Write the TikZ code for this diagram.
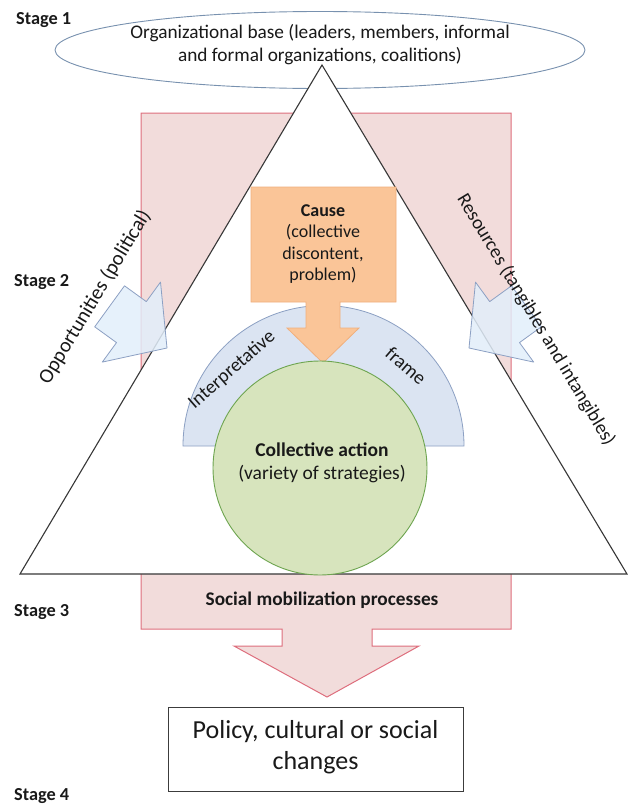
\documentclass[tikz,border=0pt]{standalone}
\usepackage{fontspec}
\setmainfont{Carlito}
\usetikzlibrary{shapes.geometric}
\definecolor{pinkfill}{RGB}{242,220,219}
\definecolor{pinkline}{RGB}{222,110,125}
\definecolor{orangefill}{RGB}{250,197,152}
\definecolor{orangeline}{RGB}{240,175,125}
\definecolor{bluefill}{RGB}{219,228,242}
\definecolor{blueline}{RGB}{140,160,195}
\definecolor{arrowfill}{RGB}{226,238,250}
\definecolor{greenfill}{RGB}{215,228,189}
\definecolor{greenline}{RGB}{110,165,80}
\definecolor{ellline}{RGB}{120,145,175}
\definecolor{txt}{RGB}{25,25,25}
\begin{document}
\begin{tikzpicture}[x=1pt,y=-1pt,
  lbl/.style={font=\fontsize{19.3}{22}\selectfont, text=txt, inner sep=0pt},
  stagelbl/.style={font=\fontsize{18.3}{22}\selectfont\bfseries, text=txt, inner sep=0pt, anchor=west},
  blockarrow/.style={fill=arrowfill, fill opacity=0.85, draw=blueline, line width=0.8pt, line join=round}]
\useasboundingbox (0,0) rectangle (632,806);
% big pink arrow
\draw[fill=pinkfill, draw=pinkline, line width=1pt]
  (141,113) -- (511,113) -- (511,629) -- (372,629) -- (372,646) -- (419,646)
  -- (327,697) -- (234,646) -- (282,646) -- (282,629) -- (141,629) -- cycle;
% ellipse
\node[draw=ellline, fill=white, ellipse, line width=0.9pt, minimum width=530pt, minimum height=77pt, inner sep=0pt] (base) at (320,50) {};
% triangle
\draw[fill=white, draw={rgb,255:red,55;green,55;blue,55}, line width=1.1pt, line join=miter]
  (322,65) coordinate (apex) -- (20,574) coordinate (bl) -- (627,574) coordinate (br) -- cycle;
% blue arrows
\draw[blockarrow] (167,348) -- (160.5,282.1) -- (146.3,301.6) -- (124.5,285.8)
  -- (94.7,326.8) -- (116.5,342.6) -- (102.3,362.1) -- cycle;
\draw[blockarrow] (469,348) -- (475.5,282.1) -- (489.7,301.6) -- (511.5,285.8)
  -- (541.3,326.8) -- (519.5,342.6) -- (533.7,362.1) -- cycle;
% half disk (frame)
\draw[fill=bluefill, draw=blueline, line width=0.8pt]
  (183,446) arc[start angle=180, end angle=0, radius=140.5pt] -- cycle;
% orange cause arrow
\draw[fill=orangefill, draw=orangeline, line width=0.8pt]
  (251,187) -- (396,187) -- (396,302) -- (340,302) -- (340,328) -- (359,328)
  -- (323,363) -- (287,328) -- (306,328) -- (306,302) -- (251,302) -- cycle;
% green circle
\node[circle, fill=greenfill, draw=greenline, line width=0.9pt, minimum size=214pt, inner sep=0pt] (action) at (320,468) {};
% policy box
\node[draw={rgb,255:red,60;green,60;blue,60}, fill=white, line width=0.9pt, minimum width=295pt, minimum height=84pt, inner sep=0pt] (policy) at (315.5,749) {};
% texts
\node[lbl, align=center] (basetxt) at (320,45) {Organizational base (leaders, members, informal\\[1pt]and formal organizations, coalitions)};
\node[lbl, align=center, font=\fontsize{18}{21.5}\selectfont] (causetxt) at (323,244) {\textbf{Cause}\\(collective\\discontent,\\problem)};
\node[lbl, align=center, font=\fontsize{19.5}{23}\selectfont] (actiontxt) at (322,463) {\textbf{Collective action}\\(variety of strategies)};
\node[lbl, font=\fontsize{19.3}{22}\selectfont\bfseries] (smp) at (322,600) {Social mobilization processes};
\node[lbl, align=center, font=\fontsize{26}{31}\selectfont] (policytxt) at (315.5,747) {Policy, cultural or social\\changes};
\node[lbl, rotate=59, font=\fontsize{20.5}{22}\selectfont] (opp) at (95,297) {Opportunities (political)};
\node[lbl, rotate=-59] (res) at (536,320) {Resources (tangibles and intangibles)};
\node[lbl, rotate=41] (interp) at (232,370) {Interpretative};
\node[lbl, rotate=-41] (frame) at (406,366) {frame};
\node[stagelbl] (s1) at (16,20) {Stage 1};
\node[stagelbl] (s2) at (14,282) {Stage 2};
\node[stagelbl] (s3) at (14,612) {Stage 3};
\node[stagelbl] (s4) at (14,796) {Stage 4};
\end{tikzpicture}
\end{document}
